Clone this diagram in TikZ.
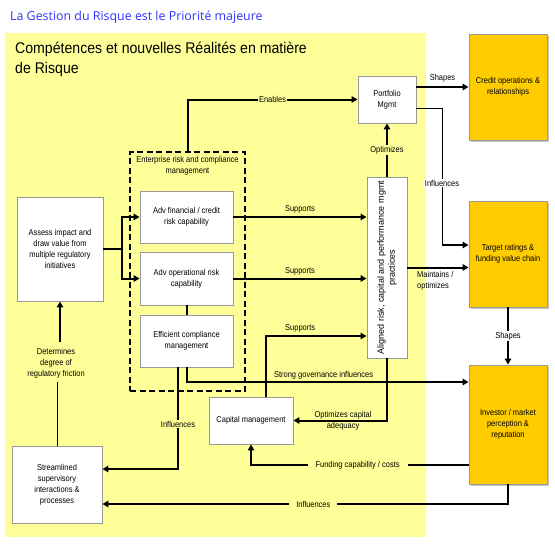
\documentclass[tikz,border=0pt]{standalone}
\usepackage{fontspec}
\setmainfont{Liberation Sans}[FakeStretch=0.88]
\newfontfamily\plainfont{Liberation Sans}
\newfontfamily\headfont{Liberation Sans}[FakeStretch=0.91]
\newfontfamily\titlefont{Open Sans}
\usetikzlibrary{arrows.meta,shadows,calc}
\definecolor{bgyellow}{HTML}{FFFF99}
\definecolor{boxorange}{HTML}{FFCC00}
\definecolor{boxgray}{HTML}{999999}
\definecolor{titleblue}{HTML}{3333FF}
\begin{document}
\begin{tikzpicture}[x=1pt,y=-1pt,
  font=\fontsize{8.5}{11}\selectfont,
  box/.style={draw=boxgray, line width=0.9pt, fill=white, align=center, inner sep=1pt},
  obox/.style={draw=boxgray, line width=0.9pt, fill=boxorange, align=center, inner sep=1pt,
    drop shadow={shadow xshift=2pt, shadow yshift=-2pt, fill=black!22, opacity=1}},
  ercbox/.style={draw=black, line width=1.8pt, dash pattern=on 6pt off 3.5pt},
  conn/.style={line width=2pt},
  arr/.style={conn, -{Triangle[length=6pt,width=6.5pt]}},
  thinln/.style={line width=1pt},
  lbl/.style={inner sep=1pt, align=center},
  ylbl/.style={lbl, fill=bgyellow},
  wlbl/.style={lbl, fill=white}]
\useasboundingbox (0,0) rectangle (555,547);
\fill[white] (0,0) rectangle (555,547);
\fill[bgyellow] (5,33) rectangle (426,537);

\node[anchor=base west, inner sep=0, font=\titlefont\fontsize{12.4}{14}\selectfont, text=titleblue] (title) at (10,20) {La Gestion du Risque est le Priorité majeure};
\node[anchor=north west, inner sep=0, align=left, font=\headfont\fontsize{15.5}{20}\selectfont] (heading) at (15,42) {Compétences et nouvelles Réalités en matière\\de Risque};

% coordinates for connector levels
\coordinate (y336) at (0,336);
\coordinate (y382) at (0,382);
\coordinate (c2) at (442,245);

% boxes
\node[ercbox, minimum width=115, minimum height=239] (erc) at (187.5,271.5) {};
\node[lbl, anchor=north] (erclbl) at (187.5,155) {Enterprise risk and compliance\\management};
\node[box, minimum width=58, minimum height=47] (port) at (387,99.5) {Portfolio\\Mgmt};
\node[obox, minimum width=78, minimum height=106] (credit) at (508,87) {Credit operations \&\\relationships};
\node[obox, minimum width=78, minimum height=106] (target) at (508,254) {Target ratings \&\\funding value chain};
\node[obox, minimum width=78, minimum height=119] (investor) at (508,424.5) {Investor / market\\perception \&\\reputation};
\node[box, minimum width=40, minimum height=181] (aligned) at (387,267.5) {};
\node[rotate=90, align=center, inner sep=0, font=\plainfont\fontsize{9}{11}\selectfont] (alignedtxt) at (aligned) {Aligned risk, capital and performance mgmt\\practices};
\node[box, minimum width=86, minimum height=104] (assess) at (60,249) {Assess impact and\\draw value from\\multiple regulatory\\initiatives};
\node[box, minimum width=93, minimum height=52] (advfin) at (186.5,217) {Adv financial / credit\\risk capability};
\node[box, minimum width=93, minimum height=53] (advop) at (186.5,278.5) {Adv operational risk\\capability};
\node[box, minimum width=93, minimum height=52] (effic) at (186.5,341) {Efficient compliance\\management};
\node[box, minimum width=84, minimum height=47] (capm) at (251,420.5) {Capital management};
\node[box, minimum width=90, minimum height=77] (stream) at (57,484.5) {Streamlined\\supervisory\\interactions \&\\processes};
\node[lbl] (det) at (56,363.5) {Determines\\degree of\\regulatory friction};

% connectors
\draw[arr] (erc.north) |- node[pos=0.75, ylbl] (enables) {Enables} (port.west);
\draw[arr] (port.east |- credit.west) -- node[above=3pt, lbl] (shapes1) {Shapes} (credit.west);
\draw[thinln] ([yshift=-8.5pt]port.east) -| (c2);
\draw[arr] (c2) -- (c2 -| target.west);
\node[wlbl] (infl1) at (442,183) {Influences};
\draw[arr] (aligned.north) -- node[ylbl] (optim) {Optimizes} (port.south);
\draw[arr] (advfin.east) -- node[above=1.5pt, lbl] (sup1) {Supports} (advfin.east -| aligned.west);
\draw[arr] (advop.east) -- node[above=1.5pt, lbl] (sup2) {Supports} (advop.east -| aligned.west);
\draw[arr] ([xshift=15pt]capm.north) |- node[pos=0.67, above=1.5pt, lbl] (sup3) {Supports} (aligned.west |- y336);
\draw[arr] (assess.east) -- ++(19,0) |- (advfin.west);
\draw[arr] (assess.east) -- ++(19,0) |- (advop.west);
\draw[conn] (advop.south) -- (effic.north);
\draw[arr] (effic.south) |- node[pos=0.743, above=1pt, lbl] (gov) {Strong governance influences} (investor.west |- y382);
\draw[arr] ([xshift=-8.5pt]effic.south) |- node[pos=0.28, ylbl] (infl2) {Influences} ([yshift=15.5pt]stream.east);
\draw[arr] (aligned.south) |- node[pos=0.735, lbl] (optcap) {Optimizes capital\\adequacy} (capm.east);
\draw[arr] (aligned.east) -- (aligned.east -| target.west);
\node[lbl, align=left, anchor=north west] (maint) at (416,270) {Maintains /\\optimizes};
\draw[arr] (target.south) -- node[wlbl] (shapes2) {Shapes} (investor.north);
\draw[arr] ([yshift=-40.5pt]investor.west) -| node[pos=0.255, ylbl, inner xsep=8pt] (fund) {Funding capability / costs} (capm.south);
\draw[arr] (investor.south) |- node[pos=0.74, ylbl, inner xsep=7pt] (infl3) {Influences} ([yshift=-19.5pt]stream.east);
\draw[arr] ([yshift=5pt]det.north -| assess.south) -- (assess.south);
\draw[thinln] ([yshift=-2pt]det.south -| stream.north) -- (stream.north);
\end{tikzpicture}
\end{document}
